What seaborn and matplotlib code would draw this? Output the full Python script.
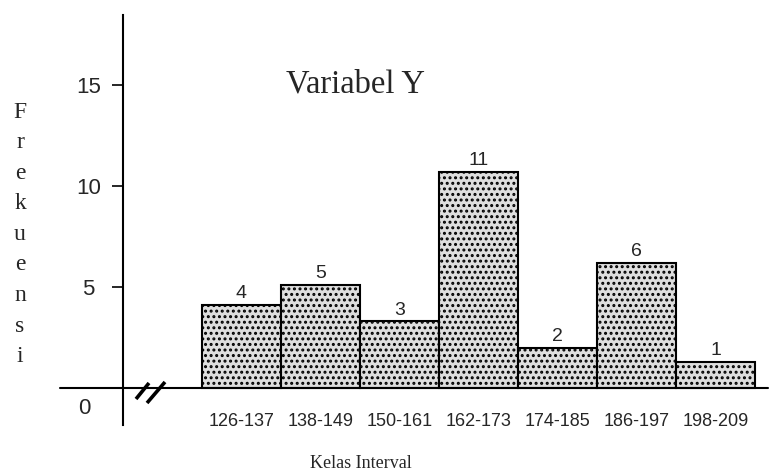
import numpy as np
import matplotlib
matplotlib.use("Agg")
import matplotlib.pyplot as plt
from matplotlib.lines import Line2D
import seaborn as sns

# data
kelas = ["126-137", "138-149", "150-161", "162-173", "174-185", "186-197", "198-209"]
frekuensi = [4, 5, 3, 11, 2, 6, 1]                  # labels printed above the bars
tinggi = [4.1, 5.1, 3.3, 10.7, 2.0, 6.2, 1.3]       # bar heights as drawn
y_ticks = [5, 10, 15]

sns.set_style("white")
plt.rcParams["font.family"] = ["Liberation Sans", "DejaVu Sans"]
plt.rcParams["hatch.linewidth"] = 1.4

W, H = 775, 474
fig = plt.figure(figsize=(W / 100, H / 100), dpi=100)
# axes box in pixel terms: y-axis at x=123, top at y=15, bottom at y=425
ax = fig.add_axes([123 / W, 1 - 425 / H, (768 - 123) / W, (425 - 15) / H])

sns.barplot(x=kelas, y=tinggi, color="#dedede", saturation=1, width=1.0,
            edgecolor="black", linewidth=1.5, hatch="...", ax=ax)
ax.bar_label(ax.containers[0], labels=[str(v) for v in frekuensi],
             padding=2, fontsize=14)

ax.set_xlim(-1.5, 6.665)
ax.set_ylim(-1.83, 18.47)
ax.set_xlabel("")
ax.set_ylabel("")

for s in ["top", "right", "bottom"]:
    ax.spines[s].set_visible(False)
ax.spines["left"].set_linewidth(1.5)
ax.spines["left"].set_color("black")

# baseline, extends left past the y axis
ax.axhline(0, xmin=(60 - 123) / 645, xmax=1, color="black", lw=1.5, clip_on=False, zorder=1)

ax.set_yticks(y_ticks)
ax.set_yticklabels([str(t) for t in y_ticks])
ax.tick_params(axis="y", direction="out", length=8, width=1.4, pad=17, labelsize=16, left=True)
for lab in ax.get_yticklabels():
    lab.set_ha("center")
ax.tick_params(axis="x", length=0, pad=-9, labelsize=13)

# "0" label sits below the baseline
fig.text(84 / W, 1 - 408 / H, "0", ha="center", va="center", fontsize=16)

# break marks on the baseline
for (x1, y1), (x2, y2) in [((136, 399), (149, 383)), ((147, 403), (165, 382))]:
    fig.add_artist(Line2D([x1 / W, x2 / W], [1 - y1 / H, 1 - y2 / H],
                          color="black", lw=2.6, solid_capstyle="butt"))

fig.text(355 / W, 1 - 84 / H, "Variabel Y", ha="center", va="center",
         fontsize=23.5, family="Liberation Serif")
fig.text(361 / W, 1 - 463 / H, "Kelas Interval", ha="center", va="center",
         fontsize=13, family="Liberation Serif")

# vertical stacked y label
huruf = list("Frekuensi")
for i, ch in enumerate(huruf):
    fig.text(20 / W, 1 - (112 + i * 30.6) / H, ch, ha="center", va="center",
             fontsize=17, family="Liberation Serif")

fig.savefig("out.png", dpi=100)
